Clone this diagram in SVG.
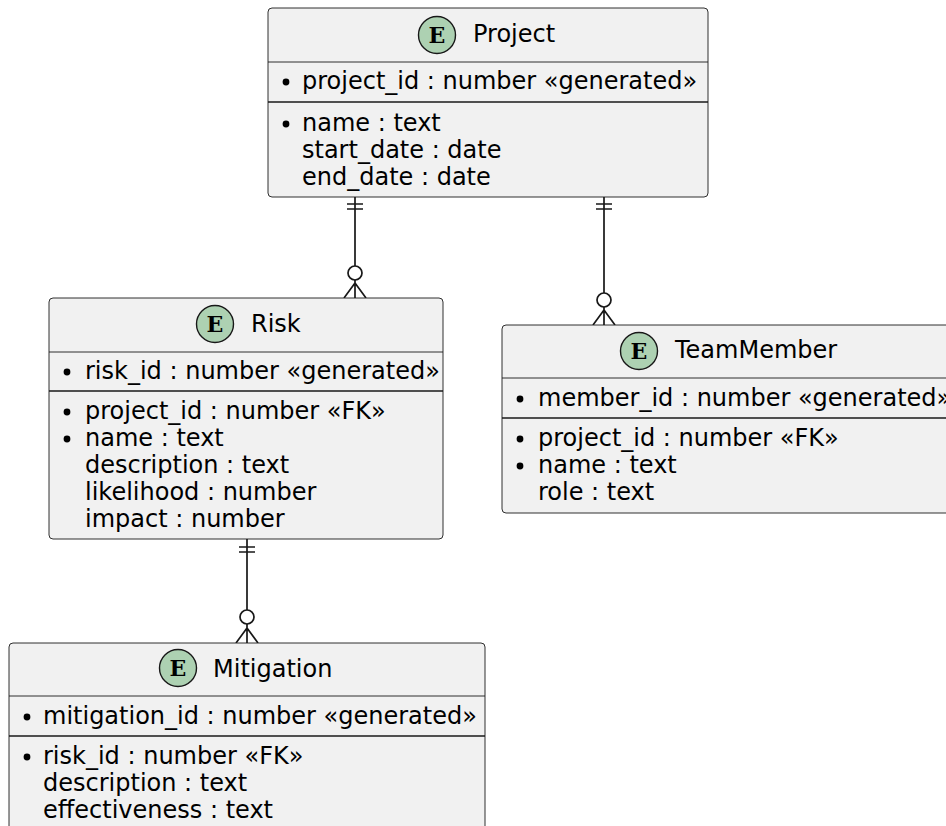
<svg xmlns="http://www.w3.org/2000/svg" width="946" height="826" viewBox="0 0 946 826">
  <style>
    .box { fill: #F1F1F1; stroke: #181818; stroke-width: 0.9; }
    .sep1 { stroke: #181818; stroke-width: 0.9; }
    .sep2 { stroke: #181818; stroke-width: 1.7; }
    .badge { fill: #ADD1B2; stroke: #181818; stroke-width: 1.4; }
    .badgeE { font-family: "DejaVu Serif", "Liberation Serif", serif; font-weight: bold; font-size: 22px; fill: #000; text-anchor: middle; }
    .title { font-family: "DejaVu Sans", sans-serif; font-size: 24px; fill: #000; }
    .attr { font-family: "DejaVu Sans", sans-serif; font-size: 24px; fill: #000; }
    .dot { fill: #000; }
    .conn { stroke: #181818; stroke-width: 1.7; fill: none; }
    .ring { stroke: #181818; stroke-width: 1.7; fill: #fff; }
  </style>

  <!-- relationship lines: one side mandatory-one, other side zero-or-many -->
  <g id="connectors">
    <!-- Project to Risk -->
    <g>
      <path class="conn" d="M355,197 V266 M355,280 V298 M347,204 H363 M347,209 H363 M355,283 L344,298 M355,283 L366,298"/>
      <circle class="ring" cx="355" cy="273" r="7"/>
    </g>
    <!-- Project to TeamMember -->
    <g>
      <path class="conn" d="M604,197 V293 M604,307 V325 M596,204 H612 M596,209 H612 M604,310 L593,325 M604,310 L615,325"/>
      <circle class="ring" cx="604" cy="300" r="7"/>
    </g>
    <!-- Risk to Mitigation -->
    <g>
      <path class="conn" d="M247,539 V610 M247,624 V643 M239,547 H255 M239,552 H255 M247,628 L236,643 M247,628 L258,643"/>
      <circle class="ring" cx="247" cy="617" r="7"/>
    </g>
  </g>

  <!-- Project -->
  <g id="Project">
    <rect class="box" x="268" y="8" width="440" height="189" rx="4"/>
    <circle class="badge" cx="437" cy="35" r="18.5"/>
    <text class="badgeE" x="437" y="43">E</text>
    <text class="title" x="473" y="42">Project</text>
    <line class="sep1" x1="268" y1="62" x2="708" y2="62"/>
    <circle class="dot" cx="286" cy="82" r="3.4"/>
    <text class="attr" x="302" y="89">project_id : number «generated»</text>
    <line class="sep2" x1="268" y1="102" x2="708" y2="102"/>
    <circle class="dot" cx="286" cy="124" r="3.4"/>
    <text class="attr" x="302" y="131">name : text</text>
    <text class="attr" x="302" y="158">start_date : date</text>
    <text class="attr" x="302" y="185">end_date : date</text>
  </g>

  <!-- Risk -->
  <g id="Risk">
    <rect class="box" x="49" y="298" width="394" height="241" rx="4"/>
    <circle class="badge" cx="215" cy="324" r="18.5"/>
    <text class="badgeE" x="215" y="332">E</text>
    <text class="title" x="251" y="332">Risk</text>
    <line class="sep1" x1="49" y1="352" x2="443" y2="352"/>
    <circle class="dot" cx="67" cy="372" r="3.4"/>
    <text class="attr" x="85" y="379">risk_id : number «generated»</text>
    <line class="sep2" x1="49" y1="391" x2="443" y2="391"/>
    <circle class="dot" cx="67" cy="412" r="3.4"/>
    <text class="attr" x="85" y="419">project_id : number «FK»</text>
    <circle class="dot" cx="67" cy="439" r="3.4"/>
    <text class="attr" x="85" y="446">name : text</text>
    <text class="attr" x="85" y="473">description : text</text>
    <text class="attr" x="85" y="500">likelihood : number</text>
    <text class="attr" x="85" y="527">impact : number</text>
  </g>

  <!-- TeamMember -->
  <g id="TeamMember">
    <rect class="box" x="502" y="325" width="460" height="188" rx="4"/>
    <circle class="badge" cx="639" cy="351" r="18.5"/>
    <text class="badgeE" x="639" y="359">E</text>
    <text class="title" x="675" y="358">TeamMember</text>
    <line class="sep1" x1="502" y1="378" x2="962" y2="378"/>
    <circle class="dot" cx="520" cy="399" r="3.4"/>
    <text class="attr" x="538" y="406">member_id : number «generated»</text>
    <line class="sep2" x1="502" y1="418" x2="962" y2="418"/>
    <circle class="dot" cx="520" cy="439" r="3.4"/>
    <text class="attr" x="538" y="446">project_id : number «FK»</text>
    <circle class="dot" cx="520" cy="466" r="3.4"/>
    <text class="attr" x="538" y="473">name : text</text>
    <text class="attr" x="538" y="500">role : text</text>
  </g>

  <!-- Mitigation -->
  <g id="Mitigation">
    <rect class="box" x="9" y="643" width="476" height="200" rx="4"/>
    <circle class="badge" cx="178" cy="668" r="18.5"/>
    <text class="badgeE" x="178" y="676">E</text>
    <text class="title" x="213" y="677">Mitigation</text>
    <line class="sep1" x1="9" y1="696" x2="485" y2="696"/>
    <circle class="dot" cx="27" cy="717" r="3.4"/>
    <text class="attr" x="43" y="724">mitigation_id : number «generated»</text>
    <line class="sep2" x1="9" y1="736" x2="485" y2="736"/>
    <circle class="dot" cx="27" cy="757" r="3.4"/>
    <text class="attr" x="43" y="764">risk_id : number «FK»</text>
    <text class="attr" x="43" y="791">description : text</text>
    <text class="attr" x="43" y="818">effectiveness : text</text>
  </g>
</svg>
